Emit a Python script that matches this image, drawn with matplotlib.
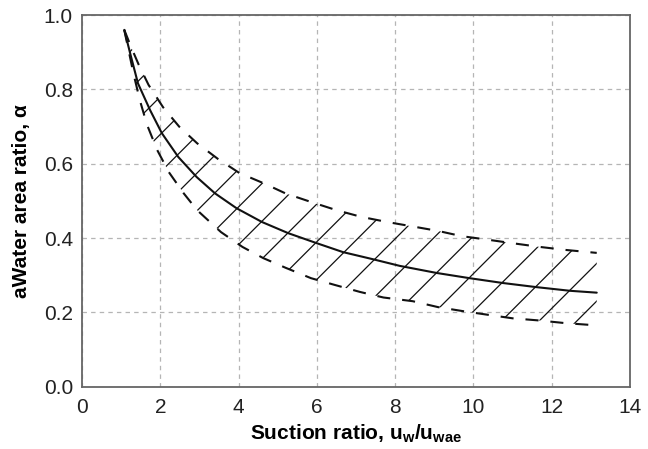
import numpy as np
import matplotlib
matplotlib.use("Agg")
import matplotlib.pyplot as plt
from matplotlib.patches import Polygon


# -----------------------------
# Data
# -----------------------------
mid_x = [1.08, 1.23, 1.43, 1.74, 2.04, 2.46, 2.93, 3.4, 3.95, 4.6, 5.27,
         6.0, 6.67, 7.43, 8.12, 9.06, 9.9, 10.75, 11.6, 12.47, 13.15]
mid_y = [0.96, 0.897, 0.816, 0.744, 0.682, 0.618, 0.564, 0.52, 0.48, 0.443, 0.413,
         0.386, 0.362, 0.343, 0.325, 0.306, 0.292, 0.279, 0.268, 0.258, 0.253]

upper_x = [1.08, 1.25, 1.45, 1.7, 2.07, 2.48, 2.94, 3.47, 4.02, 4.67, 5.2, 5.85,
           6.5, 7.13, 7.8, 8.4, 9.1, 9.7, 10.4, 11.0, 11.7, 12.35, 13.15]
upper_y = [0.96, 0.915, 0.866, 0.812, 0.752, 0.70, 0.655, 0.613, 0.575, 0.546, 0.52, 0.497,
           0.475, 0.457, 0.443, 0.432, 0.419, 0.405, 0.395, 0.386, 0.376, 0.368, 0.36]

lower_x = [1.08, 1.2, 1.32, 1.48, 1.66, 1.92, 2.22, 2.6, 2.94, 3.55, 4.1, 4.63,
           5.2, 5.85, 6.45, 7.1, 7.7, 8.45, 9.1, 9.75, 10.4, 11.0, 11.7, 12.35, 13.15]
lower_y = [0.96, 0.90, 0.84, 0.77, 0.705, 0.637, 0.577, 0.52, 0.475, 0.416, 0.376, 0.346,
           0.32, 0.292, 0.274, 0.255, 0.24, 0.23, 0.214, 0.203, 0.193, 0.184, 0.178, 0.171, 0.165]

x_ticks = [0, 2, 4, 6, 8, 10, 12, 14]
y_ticks = [0.0, 0.2, 0.4, 0.6, 0.8, 1.0]

# hatch: 45 degree lines on screen, one passes (11.70, 0.179)
hatch_ref = (11.70, 0.179)
hatch_step = 0.963


# -----------------------------
# Style
# -----------------------------
plt.rcParams["font.family"] = ["Liberation Sans", "DejaVu Sans"]
plt.rcParams["mathtext.fontset"] = "custom"
plt.rcParams["mathtext.rm"] = "Liberation Sans"
plt.rcParams["mathtext.bf"] = "Liberation Sans:bold"
plt.rcParams["lines.scale_dashes"] = False

W, H = 648, 449
fig = plt.figure(figsize=(W / 100, H / 100), dpi=100)
ax_rect = [82 / W, 62.3 / H, 548 / W, 371.7 / H]
ax = fig.add_axes(ax_rect)

xmin, xmax = 0, 14
ymin, ymax = 0, 1.0
ax.set_xlim(xmin, xmax)
ax.set_ylim(ymin, ymax)

# grid
ax.set_xticks(x_ticks)
ax.set_yticks(y_ticks)
ax.set_yticklabels([f"{v:.1f}" for v in y_ticks])
ax.grid(True, color="#b5b5b5", linestyle=(0, (3.2, 3.0)), linewidth=0.9)
ax.set_axisbelow(True)
ax.tick_params(length=0, labelsize=15, colors="#222222")
ax.tick_params(axis="x", pad=8)
ax.tick_params(axis="y", pad=6.5)
for sp in ax.spines.values():
    sp.set_color("#666666")
    sp.set_linewidth(1.3)

# -----------------------------
# Curves
# -----------------------------
ax.plot(mid_x, mid_y, color="#111111", linewidth=1.5, solid_capstyle="round", zorder=4)
ax.plot(upper_x, upper_y, color="#111111", linewidth=1.5,
        linestyle=(0, (9.4, 8.6)), zorder=4)
ax.plot(lower_x, lower_y, color="#111111", linewidth=1.5,
        linestyle=(0, (9.4, 8.6)), zorder=4)

# band polygon used to clip hatch lines
band = np.column_stack([np.r_[upper_x, lower_x[::-1]], np.r_[upper_y, lower_y[::-1]]])
clip = Polygon(band, closed=True, facecolor="none", edgecolor="none")
ax.add_patch(clip)

# slope of a 45 deg screen line in data units
px_x = ax_rect[2] * W / (xmax - xmin)
px_y = ax_rect[3] * H / (ymax - ymin)
slope = px_x / px_y

xs = np.array([xmin, xmax])
for k in range(-30, 6):
    x0 = hatch_ref[0] + k * hatch_step
    ys = hatch_ref[1] + slope * (xs - x0)
    ln, = ax.plot(xs, ys, color="#111111", linewidth=0.9, zorder=3)
    ln.set_clip_path(clip)

# -----------------------------
# Labels
# -----------------------------
ax.set_xlabel(r"Suction ratio, u$_{\mathbf{w}}$/u$_{\mathbf{wae}}$",
              fontsize=15, fontweight="bold", labelpad=4)
ax.set_ylabel("aWater area ratio, α", fontsize=15, fontweight="bold", labelpad=9)

fig.savefig("out.png", dpi=100)
